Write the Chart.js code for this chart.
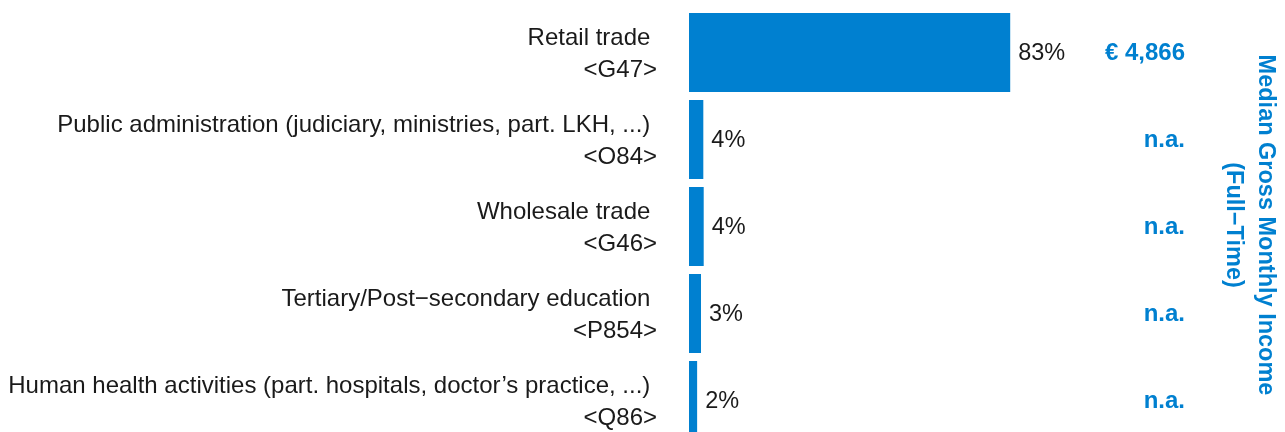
<!DOCTYPE html>
<html>
<head>
<meta charset="utf-8">
<script src="https://cdn.jsdelivr.net/npm/chart.js@4/dist/chart.umd.min.js"></script>
<style>
  html, body { margin: 0; padding: 0; background: #fff; }
  #wrap { width: 1285px; height: 432px; overflow: hidden; position: relative; }
</style>
</head>
<body>
<div id="wrap"><canvas id="chart" width="1285" height="446"></canvas></div>
<script>
// Branchen mit Anteil und Medianeinkommen
const categories = [
    ['Retail trade ', '<G47>'],
    ['Public administration (judiciary, ministries, part. LKH, ...) ', '<O84>'],
    ['Wholesale trade ', '<G46>'],
    ['Tertiary/Post\u2212secondary education ', '<P854>'],
    ['Human health activities (part. hospitals, doctor\u2019s practice, ...) ', '<Q86>']
];
const shares = [83, 3.7, 3.8, 3.1, 2.1];
const shareLabels = ['83%', '4%', '4%', '3%', '2%'];
const incomes = ['\u20ac 4,866', 'n.a.', 'n.a.', 'n.a.', 'n.a.'];
const incomeTitle = ['Median Gross Monthly Income', '(Full\u2212Time)'];

const BLUE = '#0080d0';
const FONT = '"Liberation Sans", Arial, sans-serif';

// Beschriftungen neben den Balken + Spaltentitel rechts
const labelPlugin = {
    id: 'labels',
    afterDatasetsDraw(chart) {
        const ctx = chart.ctx;
        const meta = chart.getDatasetMeta(0);
        ctx.save();
        ctx.textBaseline = 'middle';
        meta.data.forEach((bar, i) => {
            ctx.font = '23.5px ' + FONT;
            ctx.fillStyle = '#1a1a1a';
            ctx.textAlign = 'left';
            ctx.fillText(shareLabels[i], bar.x + 8, bar.y + 1);

            ctx.font = 'bold 24px ' + FONT;
            ctx.fillStyle = BLUE;
            ctx.textAlign = 'right';
            ctx.fillText(incomes[i], 1185, bar.y + 1);
        });

        ctx.translate(1249, 225);
        ctx.rotate(Math.PI / 2);
        ctx.font = 'bold 23.5px ' + FONT;
        ctx.fillStyle = BLUE;
        ctx.textAlign = 'center';
        ctx.fillText(incomeTitle[0], 0, -16);
        ctx.fillText(incomeTitle[1], 0, 16);
        ctx.restore();
    }
};

new Chart(document.getElementById('chart').getContext('2d'), {
    type: 'bar',
    data: {
        labels: categories,
        datasets: [{
            data: shares,
            backgroundColor: BLUE,
            borderWidth: 0,
            categoryPercentage: 1,
            barPercentage: 0.908
        }]
    },
    options: {
        indexAxis: 'y',
        responsive: false,
        animation: false,
        layout: { padding: { left: 0, right: 209, top: 9, bottom: 2 } },
        plugins: {
            legend: { display: false },
            tooltip: { enabled: false }
        },
        scales: {
            x: {
                display: false,
                min: 0,
                max: 100
            },
            y: {
                afterFit(scale) {
                    scale.width = 689;
                    scale.paddingTop = 0;
                    scale.paddingBottom = 0;
                },
                grid: { display: false, drawTicks: false },
                border: { display: false },
                ticks: {
                    padding: 32,
                    labelOffset: 2,
                    color: '#1a1a1a',
                    font: { family: FONT, size: 24, lineHeight: 1.34 }
                }
            }
        }
    },
    plugins: [labelPlugin]
});
</script>
</body>
</html>
